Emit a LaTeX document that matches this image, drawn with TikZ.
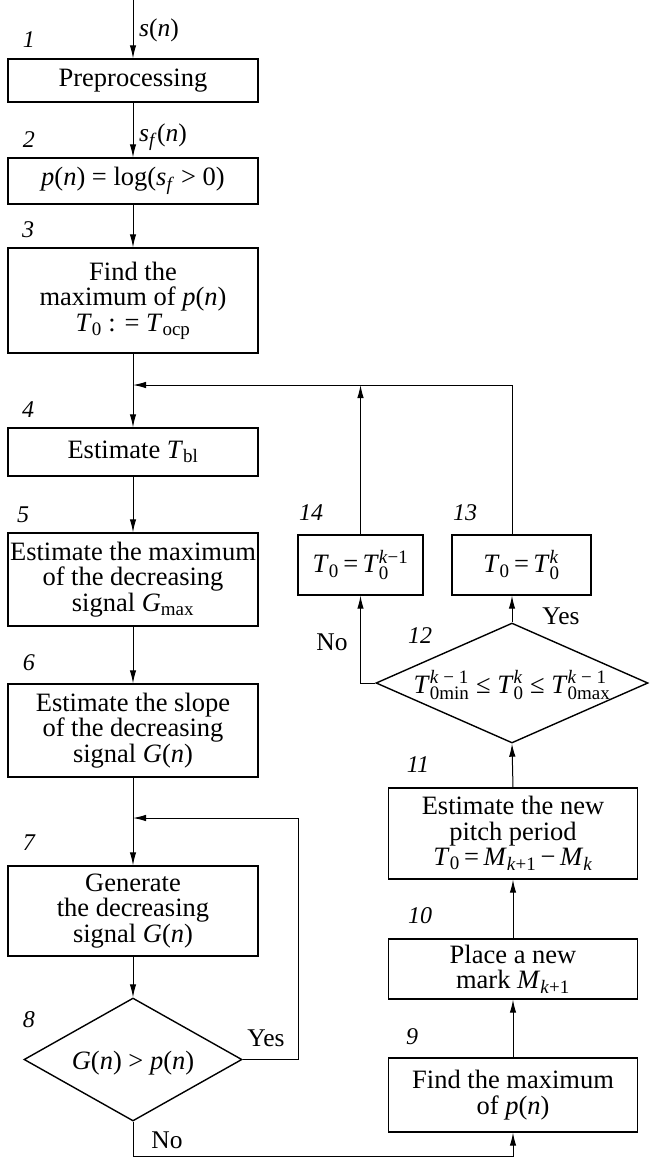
\documentclass[tikz,border=0pt]{standalone}
\usepackage{fontspec}
\setmainfont{Liberation Serif}
\usetikzlibrary{arrows.meta,shapes.geometric,calc}
\newcommand{\iv}[1]{\textit{#1}}
\newcommand{\sbx}[1]{{\fontsize{19}{19}\selectfont #1}}
\newcommand{\Sub}[1]{\ensuremath{_{\mbox{\sbx{#1}}}}}
\newcommand{\SupSub}[2]{\ensuremath{^{\mbox{\sbx{#1}}}_{\mbox{\sbx{#2}}}}}
\newcommand{\dtext}[1]{\makebox[0pt]{\raisebox{-10pt}[0pt][0pt]{#1}}}
\begin{document}
\begin{tikzpicture}[x=1pt,y=-1pt,
  box/.style={draw, line width=1.4pt, inner sep=0pt, align=center, font=\fontsize{26.5}{25.5}\selectfont},
  dia/.style={draw, diamond, line width=1.4pt, inner sep=0pt, font=\fontsize{26.5}{26}\selectfont},
  arr/.style={-{Latex[length=13pt,width=6.5pt]}, line width=1pt},
  num/.style={font=\fontsize{24}{24}\selectfont\itshape, inner sep=0pt},
  lab/.style={font=\fontsize{25.5}{25.5}\selectfont, inner sep=0pt}]
\useasboundingbox (0,0) rectangle (649,1163);
% left column
\node[box, minimum width=250pt, minimum height=43pt] (b1) at (133,80.5) {Preprocessing};
\node[box, minimum width=250pt, minimum height=46pt] (b2) at (133,181) {\iv{p}(\iv{n}) = log(\iv{s}\Sub{\iv{f}} > 0)};
\node[box, minimum width=250pt, minimum height=105pt] (b3) at (133,300.5) {Find the\\maximum of \iv{p}(\iv{n})\\\iv{T}\Sub{0} : = \iv{T}\Sub{ocp}};
\node[box, minimum width=250pt, minimum height=48pt] (b4) at (133,452) {Estimate \iv{T}\Sub{bl}};
\node[box, minimum width=250pt, minimum height=93pt] (b5) at (133,579.5) {Estimate the maximum\\of the decreasing\\signal \iv{G}\Sub{max}};
\node[box, minimum width=250pt, minimum height=93pt] (b6) at (133,730.5) {Estimate the slope\\of the decreasing\\signal \iv{G}(\iv{n})};
\node[box, minimum width=250pt, minimum height=90pt] (b7) at (133,911) {Generate\\the decreasing\\signal \iv{G}(\iv{n})};
\node[dia, minimum width=218pt, minimum height=123pt] (d8) at (133,1059.5) {\dtext{\iv{G}(\iv{n}) > \iv{p}(\iv{n})}};
% right column
\node[box, minimum width=249pt, minimum height=74pt] (b9) at (513,1095) {Find the maximum\\of \iv{p}(\iv{n})};
\node[box, minimum width=249pt, minimum height=60pt] (b10) at (513,969) {Place a new\\mark \iv{M}\Sub{\iv{k}+1}};
\node[box, minimum width=249pt, minimum height=91pt] (b11) at (513,833.5) {Estimate the new\\pitch period\\\iv{T}\Sub{0}\,=\,\iv{M}\Sub{\iv{k}+1}\,−\,\iv{M}\Sub{\iv{k}}};
\node[dia, minimum width=272pt, minimum height=120pt] (d12) at (512,683) {\dtext{\iv{T}\SupSub{\iv{k} − 1}{0min} ≤ \iv{T}\SupSub{\iv{k}}{0} ≤ \iv{T}\SupSub{\iv{k} − 1}{0max}}};
\node[box, minimum width=139pt, minimum height=60pt] (b13) at (521.5,565) {\iv{T}\Sub{0}\,=\,\iv{T}\SupSub{\iv{k}}{0}};
\node[box, minimum width=125pt, minimum height=60pt] (b14) at (360.5,565) {\iv{T}\Sub{0}\,=\,\iv{T}\SupSub{\iv{k}−1}{0}};
% coordinates
\coordinate (in) at (133,0);
\coordinate (j1) at (133,385);
\coordinate (j2) at (133,818);
\coordinate (yr) at (298,818);
\coordinate (nc) at (133,1156);
% connectors
\draw[arr] (in) -- (b1);
\draw[arr] (b1) -- (b2);
\draw[arr] (b2) -- (b3);
\draw[arr] (b3.south) -- (b4.north);
\draw[arr] (b4) -- (b5);
\draw[arr] (b5) -- (b6);
\draw[arr] (b6.south) -- (b7.north);
\draw[arr] (b7) -- (d8);
\draw[arr] (d8.east) -| (yr) -- (j2);
\draw[arr] (d8.south) -- (nc) -| (b9.south);
\draw[arr] (b9) -- (b10);
\draw[arr] (b10) -- (b11);
\draw[arr] (b11.north) -- (d12.south);
\draw[arr] (d12.north) -- (d12.north |- b13.south);
\draw[arr] (d12.west) -| (b14.south);
\draw[arr] (b14.north) -- (b14.north |- j1);
\draw[arr] (d12.north |- b13.north) |- (j1);
% labels
\node[lab, anchor=west] (ls) at (139,30) {\iv{s}(\iv{n})};
\node[lab, anchor=west] (lsf) at (139,137) {\iv{s}\Sub{\iv{f}}(\iv{n})};
\node[num] (n1) at (29,40) {1};
\node[num] (n2) at (29,140) {2};
\node[num] (n3) at (28,230) {3};
\node[num] (n4) at (28,410) {4};
\node[num] (n5) at (23,515) {5};
\node[num] (n6) at (29,663) {6};
\node[num] (n7) at (29,843) {7};
\node[num] (n8) at (29,1020) {8};
\node[num] (n9) at (412,1037) {9};
\node[num] (n10) at (420,916) {10};
\node[num] (n11) at (418,765) {11};
\node[num] (n12) at (420,636) {12};
\node[num] (n13) at (465,513) {13};
\node[num] (n14) at (311,513) {14};
\node[lab] (y8) at (266,1038) {Yes};
\node[lab] (no8) at (167,1140) {No};
\node[lab] (y12) at (561,616) {Yes};
\node[lab] (no12) at (332,642) {No};
\end{tikzpicture}
\end{document}
